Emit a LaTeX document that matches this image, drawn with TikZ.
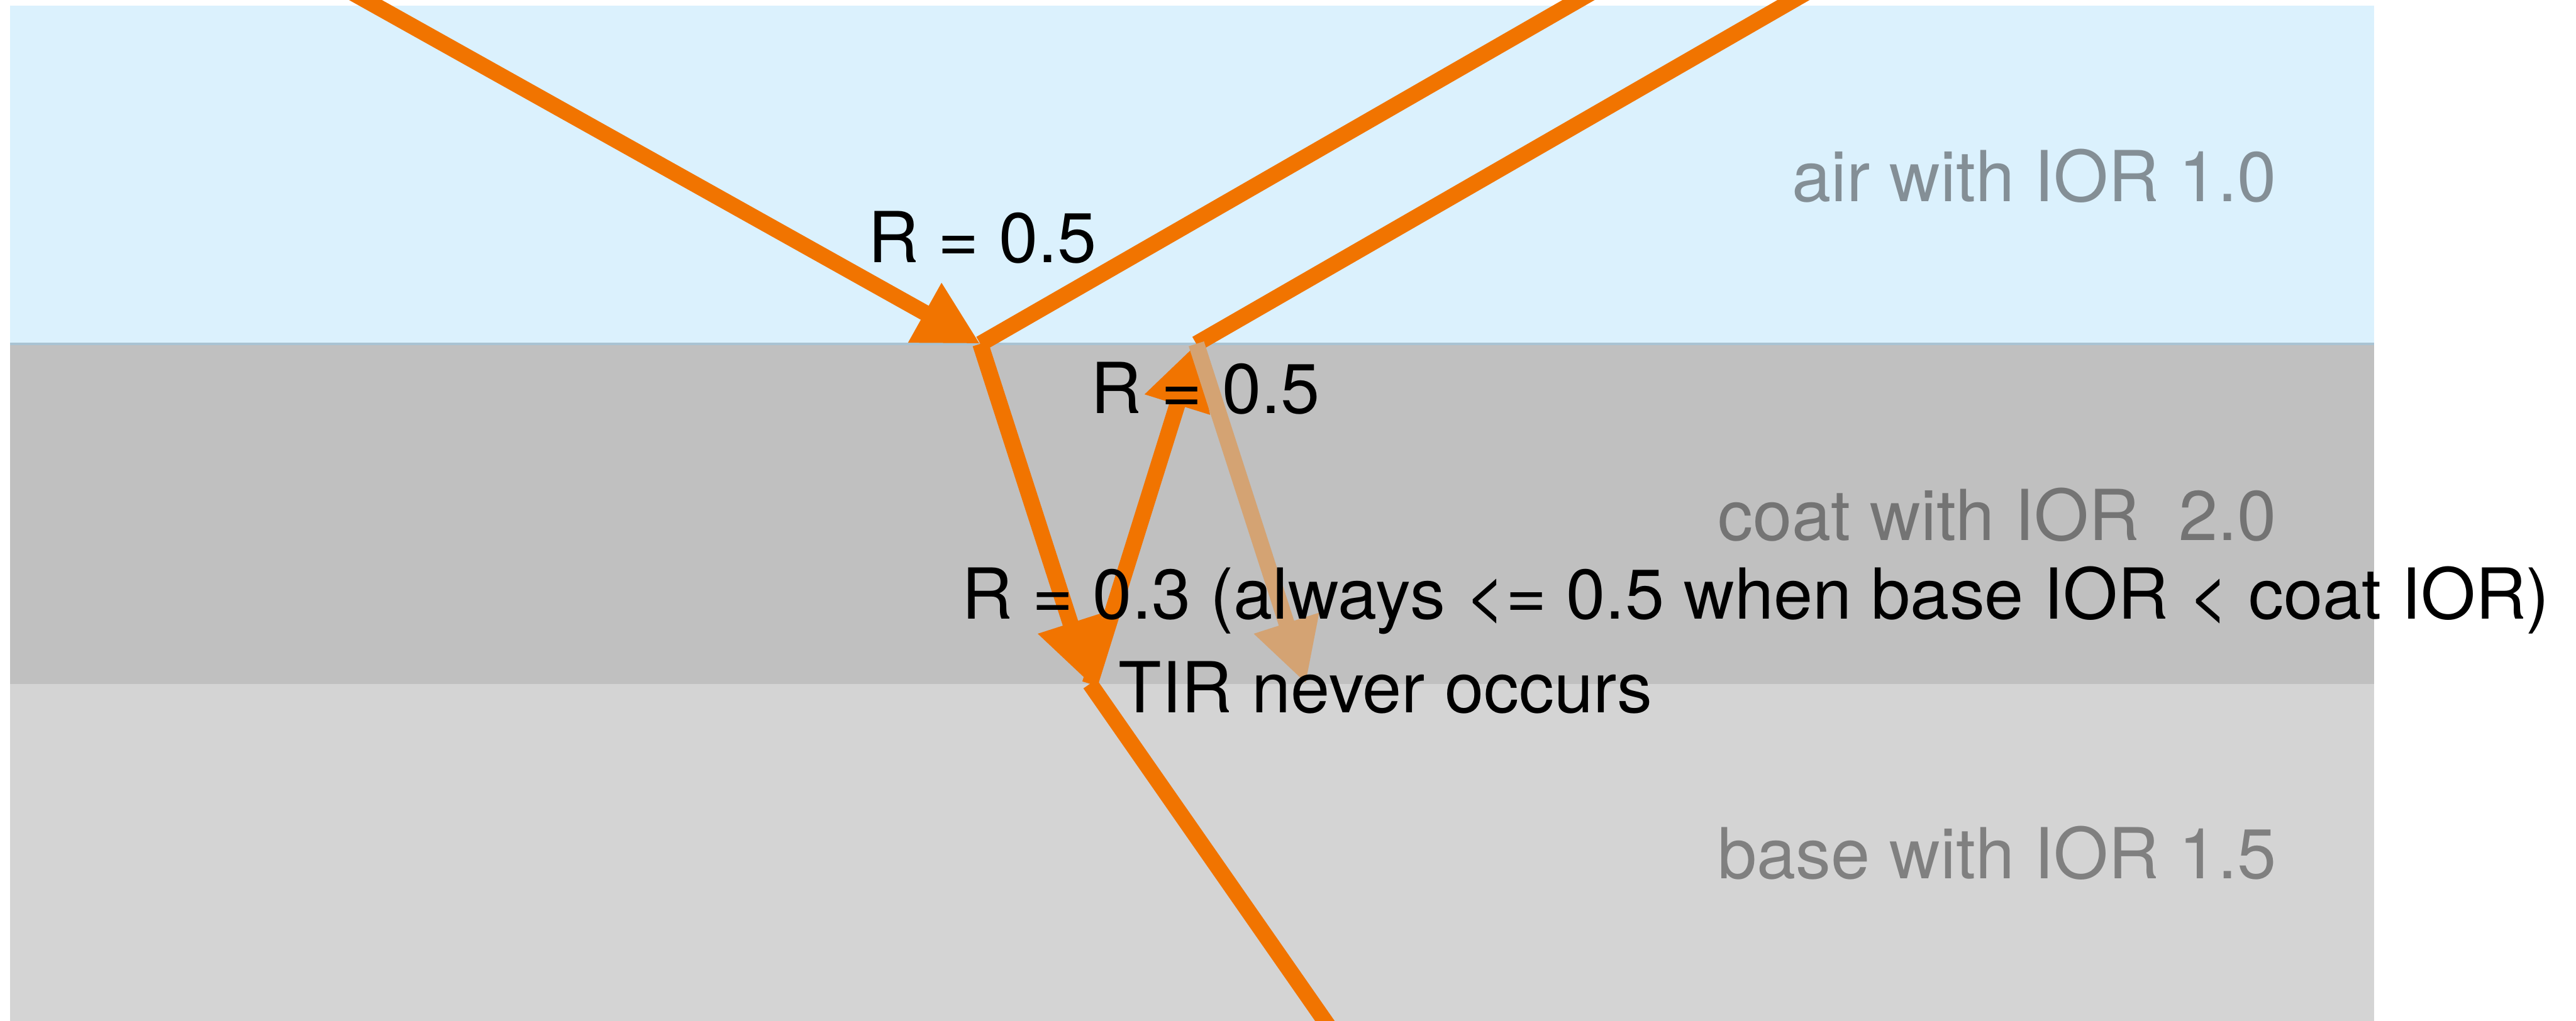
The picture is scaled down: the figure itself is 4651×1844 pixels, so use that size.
\documentclass[tikz,border=0pt]{standalone}
\usepackage{fontspec}
\setmainfont{TeX Gyre Heros}
\usetikzlibrary{arrows.meta}
\definecolor{airblue}{HTML}{DBF1FD}
\definecolor{coatgray}{HTML}{C0C0C0}
\definecolor{basegray}{HTML}{D4D4D4}
\definecolor{edgeblue}{HTML}{A9C3D3}
\definecolor{rayorange}{HTML}{F17400}
\definecolor{rayfaded}{HTML}{D4A373}
\definecolor{airlabel}{HTML}{848F96}
\definecolor{coatlabel}{HTML}{747474}
\definecolor{baselabel}{HTML}{808080}
\begin{document}
\begin{tikzpicture}[x=0.1pt,y=-0.1pt,
  txt/.style={inner sep=0pt, font=\fontsize{12.7}{15}\selectfont},
  layerlabel/.style={txt, anchor=base east},
  notelabel/.style={txt, anchor=base west, text=black},
  beam/.style={draw=rayorange, line width=2.9pt},
  arrowbeam/.style={beam, -{Triangle[length=11.5pt,width=11.5pt]}},
  fadedbeam/.style={draw=rayfaded, line width=2.9pt, -{Triangle[length=11.5pt,width=11.5pt]}}]
\useasboundingbox (0,0) rectangle (4651,1844);
\clip (0,0) rectangle (4651,1844);
% layers
\fill[airblue] (18,10) rectangle (4286,621);
\fill[coatgray] (18,621) rectangle (4286,1235);
\fill[basegray] (18,1235) rectangle (4286,1844);
\draw[edgeblue, line width=0.4pt] (18,621) -- (4286,621);
% points
\coordinate (inA) at (624,-20);
\coordinate (h1) at (1770,621);
\coordinate (refA) at (2885,-20);
\coordinate (h2) at (1968,1235);
\coordinate (h3) at (2160,621);
\coordinate (outB) at (3273,-20);
\coordinate (h4) at (2358,1235);
\coordinate (bottom) at (2406,1864);
% rays
\draw[arrowbeam] (inA) -- (h1);
\draw[beam] (h1) -- (refA);
\draw[arrowbeam] (h1) -- (h2);
\draw[arrowbeam] (h2) -- (h3);
\draw[beam] (h3) -- (outB);
\draw[fadedbeam] (h3) -- (h4);
\draw[beam] (h2) -- (bottom);
% layer labels
\node[layerlabel, text=airlabel] (airl) at (4112,364) {air with IOR 1.0};
\node[layerlabel, text=coatlabel] (coatl) at (4112,976) {coat with IOR\ \ 2.0};
\node[layerlabel, text=baselabel] (basel) at (4112,1587) {base with IOR 1.5};
% notes
\node[notelabel] (r1) at (1565,474) {R = 0.5};
\node[notelabel] (r2) at (1968,747) {R = 0.5};
\node[notelabel] (r3) at (1735,1118) {R = 0.3 (always <= 0.5 when base IOR < coat IOR)};
\node[notelabel] (tir) at (2018,1287) {TIR never occurs};
\end{tikzpicture}
\end{document}
